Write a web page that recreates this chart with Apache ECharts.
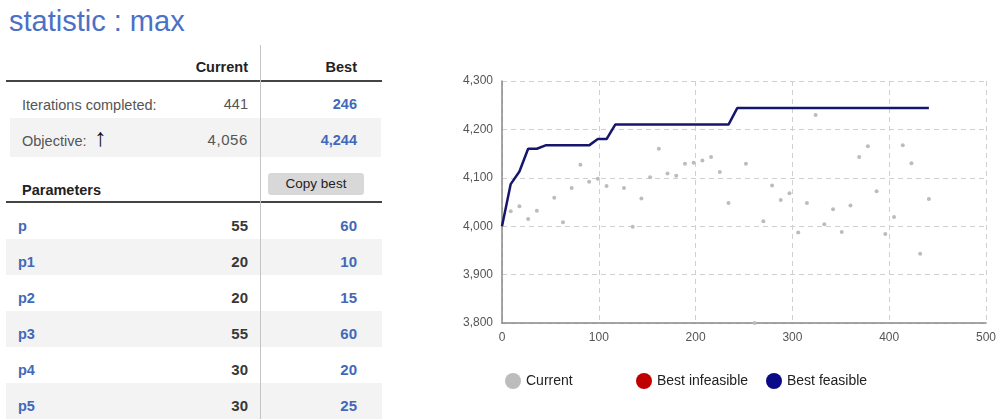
<!DOCTYPE html>
<html>
<head>
<meta charset="utf-8">
<script src="https://cdn.jsdelivr.net/npm/echarts@6/dist/echarts.min.js"></script>
<style>
  html, body { margin: 0; padding: 0; background: #fff; }
  body { width: 999px; height: 419px; position: relative; overflow: hidden;
         font-family: Arial, "Liberation Sans", sans-serif; }
  .abs { position: absolute; white-space: nowrap; }
  .band { position: absolute; background: #f3f3f3; }
  .rule { position: absolute; background: #444; }
  .num { text-align: right; }
  #chart { position: absolute; left: 400px; top: 0; width: 599px; height: 419px; }
</style>
</head>
<body>
<div id="panel"></div>
<div id="chart"></div>
<script>
// ---- data ----
var statTitle = 'statistic : max';
var colHeads = ['Current', 'Best'];
var iterations = ['441', '246'];
var objective = ['4,056', '4,244'];
var paramNames = ['p', 'p1', 'p2', 'p3', 'p4', 'p5'];
var paramCurrent = [55, 20, 20, 55, 30, 30];
var paramBest = [60, 10, 15, 60, 20, 25];

// scatter of the current objective per iteration
var iterX = [9, 18, 27, 36, 54, 63, 72, 81, 90, 99, 108, 126, 135, 144, 153, 162, 171, 180, 189, 198,
  207, 216, 225, 234, 252, 261, 270, 279, 288, 297, 306, 315, 324, 333, 342, 351, 360, 369, 378, 387,
  396, 405, 414, 423, 432, 441];
var currentY = [4031, 4041, 4015, 4032, 4059, 4008, 4079, 4127, 4092, 4098, 4083, 4079, 3999, 4057, 4101, 4160, 4109, 4104, 4129, 4131,
  4136, 4143, 4112, 4048, 4129, 3800, 4010, 4084, 4054, 4068, 3987, 4048, 4230, 4004, 4035, 3988, 4043, 4143, 4165, 4072,
  3984, 4019, 4167, 4130, 3943, 4056];
// best feasible line
var bestX = [0, 9, 18, 27, 36, 45, 90, 99, 108, 117, 234, 243, 441];
var bestY = [4000, 4087, 4113, 4160, 4160, 4167, 4167, 4180, 4180, 4210, 4210, 4244, 4244];
var xTicks = [0, 100, 200, 300, 400, 500];
var yTicks = [3800, 3900, 4000, 4100, 4200, 4300];

// ---- left panel (table) ----
(function() {
  var p = document.getElementById('panel');
  var h = '';
  var BLUE = 'color:#4468b8;font-weight:bold;';
  function txt(x, y, s, style, right) {
    // y = text centre line
    if (right) {
      h += '<div class="abs num" style="right:' + (999 - x) + 'px;top:' + (y - 10) + 'px;line-height:20px;' + style + '">' + s + '</div>';
    } else {
      h += '<div class="abs" style="left:' + x + 'px;top:' + (y - 10) + 'px;line-height:20px;' + style + '">' + s + '</div>';
    }
  }
  h += '<div class="abs" style="left:9px;top:7px;font-size:29px;line-height:29px;color:#4b70c6;">' + statTitle + '</div>';
  // bands
  h += '<div class="band" style="left:10px;top:118px;width:371px;height:39px;"></div>';
  for (var i = 0; i < paramNames.length; i++) {
    if (i % 2 == 1) {
      h += '<div class="band" style="left:6px;top:' + (203 + i * 36) + 'px;width:376px;height:36px;"></div>';
    }
  }
  // header
  txt(248, 67, colHeads[0], 'font-size:14.5px;font-weight:bold;color:#222;', true);
  txt(357, 67, colHeads[1], 'font-size:14.5px;font-weight:bold;color:#222;', true);
  h += '<div class="rule" style="left:6px;top:80px;width:376px;height:2px;"></div>';
  // summary rows
  txt(22, 105, 'Iterations completed:', 'font-size:14.5px;color:#555;');
  txt(248, 104, iterations[0], 'font-size:14.5px;color:#555;', true);
  txt(357, 104, iterations[1], 'font-size:14.5px;' + BLUE, true);
  txt(22, 141, 'Objective:', 'font-size:14.5px;color:#555;');
  txt(94, 137, '\u2191', 'font-size:25px;font-weight:bold;color:#111;font-family:"DejaVu Sans",sans-serif;-webkit-text-stroke:0.9px #111;');
  txt(248, 140, objective[0], 'font-size:15px;color:#555;letter-spacing:0.6px;', true);
  txt(357, 140, objective[1], 'font-size:14.5px;' + BLUE, true);
  // parameters header
  txt(22, 190, 'Parameters', 'font-size:14.5px;font-weight:bold;color:#222;');
  h += '<div class="abs" style="left:268px;top:173px;width:96px;height:22px;line-height:22px;background:#d8d8d8;border-radius:3px;text-align:center;font-size:13.5px;color:#222;">Copy best</div>';
  h += '<div class="rule" style="left:6px;top:201px;width:376px;height:2px;"></div>';
  for (var j = 0; j < paramNames.length; j++) {
    var cy = 203 + j * 36 + 23;
    txt(18, cy, paramNames[j], 'font-size:14.5px;' + BLUE);
    txt(248, cy, paramCurrent[j], 'font-size:15px;font-weight:bold;color:#383838;', true);
    txt(357, cy, paramBest[j], 'font-size:15px;' + BLUE, true);
  }
  // column divider
  h += '<div class="abs" style="left:260px;top:45px;width:1px;height:374px;background:#c4c4c4;"></div>';
  p.innerHTML = h;
})();

// ---- chart ----
var chart = echarts.init(document.getElementById('chart'));
var currentData = iterX.map(function(x, i) { return [x, currentY[i]]; });
var bestData = bestX.map(function(x, i) { return [x, bestY[i]]; });
var legendText = { fontSize: 14, color: '#222', fontFamily: 'Arial, "Liberation Sans", sans-serif' };

chart.setOption({
  animation: false,
  grid: { left: 102, right: 12, top: 81, bottom: 96 },
  legend: [
    { data: ['Current'], left: 105, top: 373, padding: 0, icon: 'circle', itemWidth: 16, itemHeight: 16, textStyle: legendText },
    { data: ['Best infeasible'], left: 236, top: 373, padding: 0, icon: 'circle', itemWidth: 16, itemHeight: 16, textStyle: legendText },
    { data: ['Best feasible'], left: 366, top: 373, padding: 0, icon: 'circle', itemWidth: 16, itemHeight: 16, textStyle: legendText }
  ],
  xAxis: {
    type: 'value', min: xTicks[0], max: xTicks[xTicks.length - 1], interval: 100,
    axisLine: { show: true, lineStyle: { color: '#888', width: 1.5 } },
    axisTick: { show: false },
    axisLabel: { color: '#555', fontSize: 12, margin: 9, fontFamily: 'Arial, "Liberation Sans", sans-serif' },
    splitLine: { show: true, lineStyle: { color: '#d0d0d0', type: [5, 4] } }
  },
  yAxis: {
    type: 'value', min: yTicks[0], max: yTicks[yTicks.length - 1], interval: 100,
    axisLine: { show: true, lineStyle: { color: '#888', width: 1.5 } },
    axisTick: { show: false },
    axisLabel: {
      color: '#555', fontSize: 12, margin: 9, fontFamily: 'Arial, "Liberation Sans", sans-serif',
      formatter: function(v) { return echarts.format.addCommas(v); }
    },
    splitLine: { show: true, lineStyle: { color: '#d0d0d0', type: [5, 4] } }
  },
  series: [
    {
      name: 'Current', type: 'scatter', symbolSize: 4,
      itemStyle: { color: '#bcbcbc', opacity: 1 }, data: currentData
    },
    {
      name: 'Best infeasible', type: 'scatter', symbolSize: 5,
      itemStyle: { color: '#c00000', opacity: 1 }, data: []
    },
    {
      name: 'Best feasible', type: 'line', showSymbol: false, symbol: 'circle',
      itemStyle: { color: '#0a0a88' },
      lineStyle: { color: '#16166c', width: 2.5 },
      data: bestData
    }
  ]
});
</script>
</body>
</html>
